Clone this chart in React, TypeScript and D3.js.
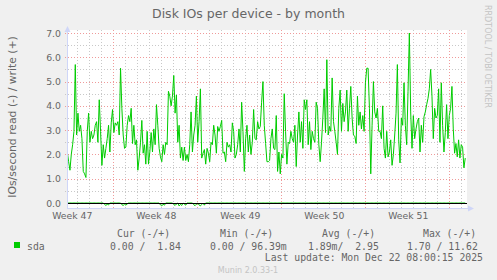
import React from "react";
import * as d3 from "d3";

const W = 497;
const H = 280;

// write IOs/second (positive), evenly spaced in time
const writes: number[] = [
  2.1, 1.7, 1.35, 2.0, 2.4, 2.95, 5.7, 2.8, 3.7, 2.95, 3.2, 2.65, 1.3, 1.2, 1.05, 2.95, 3.7, 2.5, 2.95, 2.65, 2.8, 3.2, 3.35, 2.5, 4.25, 2.95, 1.55, 2.4, 1.85, 2.25, 2.65, 3.2, 2.1, 3.3, 3.85, 2.9, 3.3, 3.2, 3.35, 2.8, 5.55, 3.9, 2.8, 2.25, 2.3, 3.2, 3.6, 3.35, 3.9, 2.45,
  3.2, 2.4, 2.6, 1.35, 1.85, 2.5, 3.4, 2.05, 2.4, 1.6, 2.95, 1.6, 2.1, 2.9, 2.1, 3.05, 2.4, 4.05, 3.2, 2.25, 1.9, 1.7, 2.4, 2.0, 2.5, 2.4, 4.6, 4.4, 4.0, 4.4, 5.25, 3.7, 4.45, 2.5, 3.2, 1.85, 2.3, 1.75, 2.3, 1.75, 2.0, 1.7, 2.4, 3.75, 2.1, 2.8, 3.2, 4.4, 2.5, 3.35,
  4.7, 1.85, 2.05, 2.2, 1.6, 2.25, 2.05, 1.7, 2.5, 2.4, 3.2, 2.8, 2.05, 3.15, 2.95, 3.15, 3.4, 2.05, 2.1, 1.7, 2.5, 2.3, 2.4, 2.1, 3.3, 2.95, 1.85, 2.0, 2.4, 3.05, 2.1, 4.15, 2.95, 1.3, 2.65, 3.2, 2.1, 2.8, 2.0, 2.5, 3.85, 2.65, 2.6, 3.35, 3.05, 3.15, 4.15, 5.0, 3.2, 2.45,
  1.7, 1.7, 1.75, 2.65, 3.05, 2.25, 2.2, 3.6, 1.3, 2.1, 1.2, 2.0, 1.85, 4.5, 2.95, 1.6, 2.5, 2.45, 2.95, 2.65, 2.5, 3.2, 1.5, 2.8, 3.75, 2.5, 3.35, 2.25, 4.25, 3.85, 4.25, 2.4, 3.35, 2.2, 2.95, 2.65, 2.5, 4.15, 3.9, 2.4, 1.7, 2.5, 3.5, 4.7, 2.9, 5.9, 2.8, 3.15, 2.95, 5.15,
  3.35, 2.95, 2.5, 2.0, 3.9, 4.65, 2.95, 4.1, 3.35, 3.75, 4.65, 2.95, 3.9, 4.8, 3.5, 2.8, 2.75, 2.45, 4.4, 3.2, 3.75, 3.05, 3.6, 2.95, 4.95, 5.55, 5.55, 3.9, 1.2, 3.2, 5.0, 3.75, 3.5, 3.9, 2.95, 2.95, 2.65, 4.0, 2.25, 1.85, 2.95, 1.9, 2.1, 2.6, 1.55, 2.0, 2.8, 3.7, 5.7, 2.6, 1.65,
  3.5, 3.2, 4.95, 3.2, 2.4, 4.6, 7.0, 3.75, 2.25, 3.6, 2.65, 3.05, 3.35, 3.5, 2.1, 3.2, 2.5, 3.55, 3.75, 4.05, 4.3, 4.7, 5.5, 4.4, 2.65, 3.9, 3.5, 3.6, 4.7, 2.5, 4.95, 3.2, 2.1, 2.9, 4.05, 2.65, 3.6, 3.9, 4.8, 3.05, 2.05, 2.45, 1.9, 2.6, 1.85, 2.4, 2.3, 1.45, 1.85,
];

// read IOs/second (drawn negative): [sample index, value]; all other samples are 0
const readBlips: [number, number][] = [
  [28, -0.06], [29, -0.1], [30, -0.05], [31, -0.08],
  [41, -0.07], [42, -0.1], [43, -0.05], [44, -0.09], [45, -0.04],
  [70, -0.08], [71, -0.12], [72, -0.05], [73, -0.09],
  [80, -0.06], [81, -0.1], [82, -0.04], [84, -0.12], [85, -0.06], [86, -0.1], [88, -0.05], [89, -0.09],
  [95, -0.07], [96, -0.11], [97, -0.05], [99, -0.08], [100, -0.12], [101, -0.06], [103, -0.09],
];

const yMajor = [0, 1, 2, 3, 4, 5, 6, 7];
const yMinor = [0.5, 1.5, 2.5, 3.5, 4.5, 5.5, 6.5];
const weekLabels = ["Week 47", "Week 48", "Week 49", "Week 50", "Week 51"];
const legendHeaders = ["Cur (-/+)", "Min (-/+)", "Avg (-/+)", "Max (-/+)"];
const legendValues = ["0.00 /  1.84", "0.00 / 96.39m", "1.89m/  2.95", "1.70 / 11.62"];
const seriesName = "sda";
const lastUpdate = "Last update: Mon Dec 22 08:00:15 2025";

const HOUR = 3600e3;
const START = Date.UTC(2025, 10, 20, 3, 24);
const END = START + 800 * HOUR;

const PL = 67, PR = 467, PT = 30, PB = 208;

const GREEN = "#00cc00";
const FONT = "#666666";
const AXIS = "#CFD6F8";

export default function App() {
  const x = d3.scaleUtc().domain([START, END]).range([PL, PR]);
  const y = d3.scaleLinear().domain([0, 7]).range([203, 33]);
  const N = writes.length;
  const tOf = d3.scaleLinear().domain([0, N - 1]).range([START + 0.6 * HOUR, START + 796.5 * HOUR]);

  const reads = writes.map(() => 0);
  readBlips.forEach(([i, v]) => (reads[i] = v));

  const line = d3
    .line<number>()
    .x((_, i) => x(tOf(i)))
    .y((d) => y(d));

  const days = d3.utcDay.range(new Date(START), new Date(END));
  const mondays = d3.utcMonday.range(new Date(START), new Date(END));
  const thursdays = d3.utcThursday.range(new Date(START - 12 * HOUR), new Date(END)).map((d) => new Date(+d + 12 * HOUR));

  const r = (v: number) => Math.round(v) + 0.5;
  const mono = "'DejaVu Sans Mono', monospace";
  const sans = "'DejaVu Sans', sans-serif";

  const headerX = [117, 220, 322, 423];
  const valueX = [110, 210, 308, 407];

  return (
    <svg width={W} height={H} style={{ display: "block", position: "absolute", left: 0, top: 0 }}>
      <defs>
        <clipPath id="plotclip">
          <rect x={PL} y={PT} width={PR - PL} height={PB - PT} />
        </clipPath>
      </defs>
      <rect x={0} y={0} width={W} height={H} fill="#f0f0f0" />
      <rect x={PL} y={PT} width={PR - PL} height={PB - PT} fill="#ffffff" />

      {/* minor grid */}
      <g stroke="#c8c8c8" strokeWidth={1} strokeDasharray="1,2">
        {days
          .filter((d) => d.getUTCDay() !== 1)
          .map((d, i) => (
            <line key={"vd" + i} x1={r(x(d))} x2={r(x(d))} y1={PT} y2={PB + 2} />
          ))}
        {yMinor.map((v) => (
          <line key={"hm" + v} x1={PL - 2} x2={PR} y1={r(y(v))} y2={r(y(v))} />
        ))}
      </g>
      {/* major grid */}
      <g stroke="#ef9a9a" strokeWidth={1} strokeDasharray="1,2">
        {mondays.map((d, i) => (
          <line key={"vm" + i} x1={r(x(d))} x2={r(x(d))} y1={PT} y2={PB + 2} />
        ))}
        {yMajor
          .filter((v) => v !== 0)
          .map((v) => (
            <line key={"hM" + v} x1={PL - 2} x2={PR} y1={r(y(v))} y2={r(y(v))} />
          ))}
      </g>

      <g clipPath="url(#plotclip)">
        <path d={line(reads) || ""} fill="none" stroke={GREEN} strokeWidth={1} />
        <line x1={PL} x2={PR} y1={r(y(0))} y2={r(y(0))} stroke="#000" strokeWidth={1} />
        <path d={line(writes) || ""} fill="none" stroke={GREEN} strokeWidth={1} strokeLinejoin="round" />
      </g>

      {/* axes */}
      <line x1={PL + 0.5} x2={PL + 0.5} y1={PB} y2={29} stroke={AXIS} strokeWidth={1} />
      <line x1={PL} x2={470} y1={PB + 0.5} y2={PB + 0.5} stroke={AXIS} strokeWidth={1} />
      <path d={`M${PL - 2.5},32 L${PL + 3.5},32 L${PL + 0.5},26 Z`} fill={AXIS} />
      <path d={`M468,${PB - 2.5} L468,${PB + 3.5} L474,${PB + 0.5} Z`} fill={AXIS} />

      {/* y tick labels */}
      {yMajor.map((v) => (
        <text key={"yl" + v} x={61} y={y(v) + 3.5} textAnchor="end" fontFamily={sans} fontSize={9.3} fill={FONT}>
          {d3.format(".1f")(v)}
        </text>
      ))}
      {/* x labels */}
      {thursdays.slice(0, weekLabels.length).map((d, i) => (
        <text key={"xl" + i} x={x(d) + 1} y={219} textAnchor="middle" fontFamily={sans} fontSize={9.3} fill={FONT}>
          {weekLabels[i]}
        </text>
      ))}

      {/* title */}
      <text x={248.5} y={18} textAnchor="middle" fontFamily={sans} fontSize={12.5} fill={FONT}>
        Disk IOs per device - by month
      </text>
      {/* y axis label */}
      <text
        transform={`translate(15.5, ${(PT + PB) / 2 - 2}) rotate(-90)`}
        textAnchor="middle"
        fontFamily={sans}
        fontSize={10.8}
        fill={FONT}
      >
        IOs/second read (-) / write (+)
      </text>
      {/* watermark */}
      <text transform="translate(485, 5) rotate(90)" textAnchor="start" fontFamily={sans} fontSize={8} fill="#c4c4c4">
        RRDTOOL / TOBI OETIKER
      </text>

      {/* legend */}
      {legendHeaders.map((t, i) => (
        <text key={"lh" + i} x={headerX[i]} y={237} fontFamily={mono} fontSize={9.8} fill={FONT} style={{ whiteSpace: "pre" }}>
          {t}
        </text>
      ))}
      <rect x={14} y={242} width={6} height={6} fill={GREEN} />
      <text x={27} y={249.5} fontFamily={mono} fontSize={9.8} fill={FONT}>
        {seriesName}
      </text>
      {legendValues.map((t, i) => (
        <text key={"lv" + i} x={valueX[i]} y={249.5} fontFamily={mono} fontSize={9.8} fill={FONT} style={{ whiteSpace: "pre" }}>
          {t}
        </text>
      ))}
      <text x={483} y={261} textAnchor="end" fontFamily={mono} fontSize={9.8} fill={FONT} style={{ whiteSpace: "pre" }}>
        {lastUpdate}
      </text>
      <text x={248} y={273} textAnchor="middle" fontFamily={sans} fontSize={8} fill="#c4c4c4">
        Munin 2.0.33-1
      </text>
    </svg>
  );
}
